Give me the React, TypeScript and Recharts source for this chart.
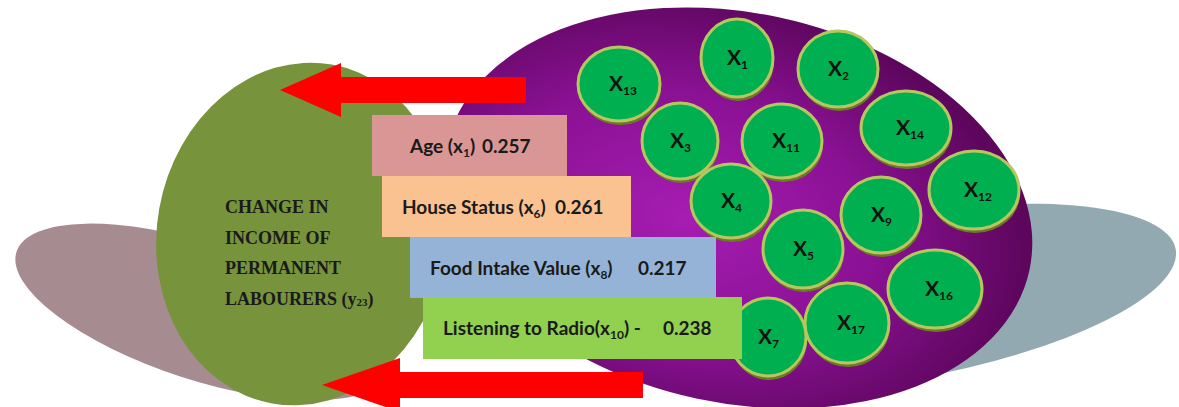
import { ScatterChart, Scatter, XAxis, YAxis } from 'recharts';

const W = 1179;
const H = 407;

// significant variables and their coefficients
const drivers = ['Age', 'House Status', 'Food Intake Value', 'Listening to Radio'];
const driverVars = ['1', '6', '8', '10'];
const driverCoefs = ['0.257', '0.261', '0.217', '0.238'];
const driverJoin = [' (', ' (', ' (', '('];
const driverTail = ['', '', '', ' -'];

// all variables in the pool
const poolVars = ['13', '1', '2', '3', '11', '14', '4', '12', '9', '5', '16', '17', '7'];

// dependent variable
const targetLines = ['CHANGE IN', 'INCOME OF', 'PERMANENT', 'LABOURERS'];
const targetVar = '23';

// layout (diagram units = pixels)
const poolX = [619, 737, 838, 680, 782, 906, 731, 974, 881, 803, 935, 847, 768];
const poolY = [84, 58, 69, 141, 141, 128, 201, 190, 215, 249, 289, 323, 337];
const poolRx = [41, 36, 40, 38, 40, 45, 40, 45, 40, 40, 47, 42, 38];
const poolRy = [37, 39, 38, 38, 37, 37, 37, 39, 38, 39, 39, 40, 39];

const boxLeft = [372, 382, 410, 423];
const boxRight = [567, 631, 716, 742];
const boxTop = [115, 176, 237, 297];
const boxBottom = [176, 237, 298, 359];
const textLeft = [410, 402, 430, 443];
const coefLeft = [482, 555, 638, 663];
const boxColors = ['#d99694', '#fac191', '#95b3d7', '#92d050'];

const blobs = [
  { x: 202, y: 312, rx: 195, ry: 68, rot: 18, fill: '#a68c90' },
  { x: 900, y: 298, rx: 280, ry: 82, rot: -10, fill: '#93a9b2' },
  { x: 738, y: 208, rx: 298, ry: 195, rot: 12, fill: 'url(#purpleGrad)' },
  { x: 302, y: 234, rx: 145, ry: 172, rot: 10, fill: '#77933c' },
];

const arrowTip = [280, 322];
const arrowHead = [341, 400];
const arrowTail = [526, 643];
const arrowY = [90, 385];

const nodeData = poolVars.map((v, i) => ({ x: poolX[i], y: poolY[i], v, rx: poolRx[i], ry: poolRy[i] }));
const boxData = drivers.map((name, i) => ({
  x: boxLeft[i], y: boxTop[i], name, v: driverVars[i], coef: driverCoefs[i],
  w: boxRight[i] - boxLeft[i], h: boxBottom[i] - boxTop[i],
  tx: textLeft[i] - boxLeft[i], cx: coefLeft[i] - boxLeft[i],
  join: driverJoin[i], tail: driverTail[i], fill: boxColors[i],
}));
const arrowData = arrowTip.map((t, i) => ({ x: t, y: arrowY[i], head: arrowHead[i] - t, len: arrowTail[i] - t }));
const targetData = [{ x: 225, y: 213 }];

const sans = 'Lato, "Open Sans", sans-serif';

const Blob = (p: any) => (
  <ellipse cx={p.cx} cy={p.cy} rx={p.payload.rx} ry={p.payload.ry}
    transform={`rotate(${p.payload.rot} ${p.cx} ${p.cy})`} fill={p.payload.fill} />
);

const Arrow = (p: any) => {
  const { head, len } = p.payload;
  const x = p.cx, y = p.cy;
  const pts = [
    [x, y], [x + head, y - 27], [x + head, y - 13], [x + len, y - 13],
    [x + len, y + 13], [x + head, y + 13], [x + head, y + 27],
  ].map((q) => q.join(',')).join(' ');
  return <polygon points={pts} fill="#ff0000" />;
};

const Box = (p: any) => {
  const d = p.payload;
  const base = p.cy + d.h / 2 + 7;
  return (
    <g>
      <rect x={p.cx} y={p.cy} width={d.w} height={d.h} fill={d.fill} />
      <text x={p.cx + d.tx} y={base} fontFamily={sans} fontWeight={700} fontSize={19} fill="#1a1a1a">
        <tspan>{d.name}{d.join}x</tspan>
        <tspan fontSize={12} dy={4}>{d.v}</tspan>
        <tspan dy={-4}>){d.tail}</tspan>
      </text>
      <text x={p.cx + d.cx} y={base} fontFamily={sans} fontWeight={700} fontSize={19} fill="#1a1a1a">{d.coef}</text>
    </g>
  );
};

const Node = (p: any) => {
  const d = p.payload;
  return (
    <g>
      <ellipse cx={p.cx + 1} cy={p.cy + 4} rx={d.rx} ry={d.ry} fill="#6e7a22" />
      <ellipse cx={p.cx} cy={p.cy} rx={d.rx} ry={d.ry} fill="#00b050" stroke="#b7c65e" strokeWidth={3} />
      <text x={p.cx - 10} y={p.cy + 7} fontFamily={sans} fontWeight={700} fontSize={21} fill="#111">
        <tspan>X</tspan>
        <tspan fontSize={12} dy={4}>{d.v}</tspan>
      </text>
    </g>
  );
};

const Target = (p: any) => (
  <text x={p.cx} y={p.cy} fontFamily='"Liberation Serif", "DejaVu Serif", serif' fontWeight={700} fontSize={18} fill="#1a1a1a">
    {targetLines.map((l, i) => (
      <tspan key={i} x={p.cx} dy={i === 0 ? 0 : 30.5}>
        {l}
        {i === targetLines.length - 1 && (
          <>
            <tspan> (y</tspan>
            <tspan fontSize={11} dy={1}>{targetVar}</tspan>
            <tspan dy={-1}>)</tspan>
          </>
        )}
      </tspan>
    ))}
  </text>
);

export default function App() {
  return (
    <div style={{ position: 'absolute', left: 0, top: 0, background: '#fff' }}>
      <ScatterChart width={W} height={H} margin={{ top: 0, right: 0, bottom: 0, left: 0 }}>
        <defs>
          <radialGradient id="purpleGrad" cx="0.42" cy="0.55" r="0.58">
            <stop offset="0%" stopColor="#a61db2" />
            <stop offset="55%" stopColor="#8a1194" />
            <stop offset="100%" stopColor="#5c065c" />
          </radialGradient>
        </defs>
        <XAxis type="number" dataKey="x" domain={[0, W]} hide />
        <YAxis type="number" dataKey="y" domain={[0, H]} reversed hide />
        <Scatter data={blobs} shape={Blob} isAnimationActive={false} />
        <Scatter data={nodeData} shape={Node} isAnimationActive={false} />
        <Scatter data={arrowData} shape={Arrow} isAnimationActive={false} />
        <Scatter data={boxData} shape={Box} isAnimationActive={false} />
        <Scatter data={targetData} shape={Target} isAnimationActive={false} />
      </ScatterChart>
    </div>
  );
}
